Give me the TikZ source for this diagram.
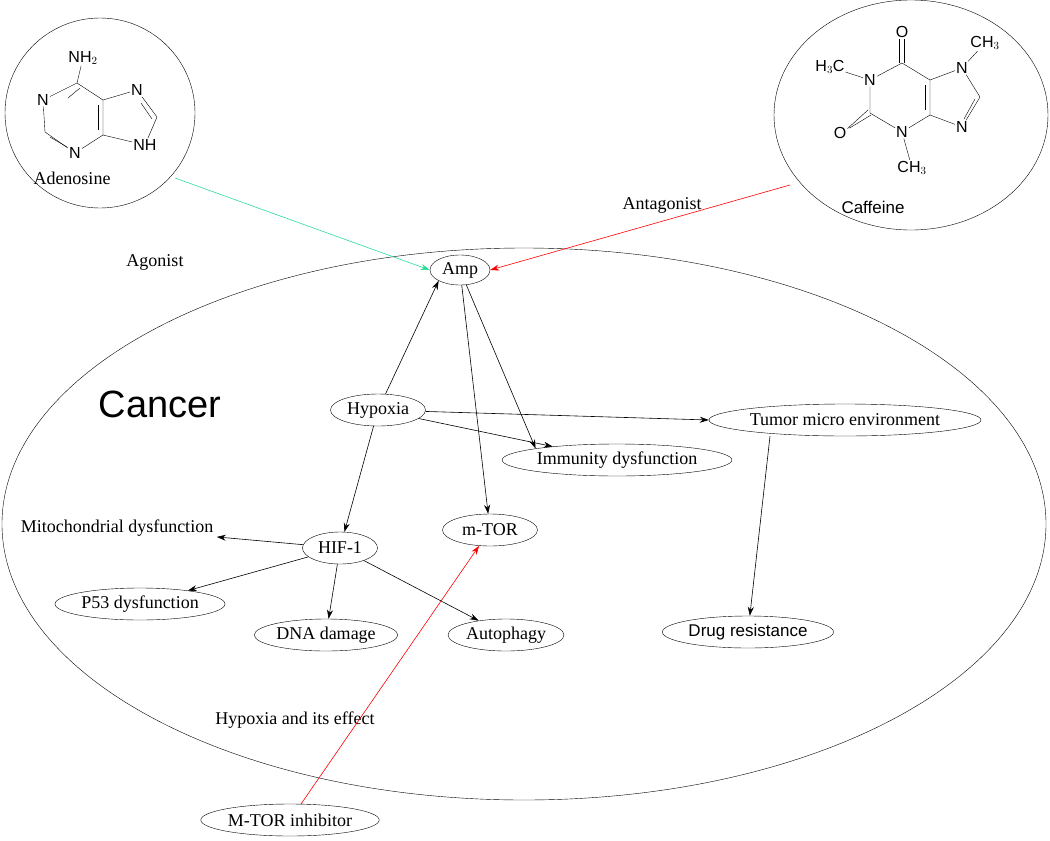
\documentclass[tikz,border=0pt]{standalone}
\usepackage{fontspec}
\setmainfont{Liberation Serif}
\newfontfamily\sansf{Liberation Sans}
\usetikzlibrary{shapes.geometric,arrows.meta}
\definecolor{agogreen}{RGB}{40,220,150}
\tikzset{
  box/.style={draw,ellipse,inner sep=1pt,font=\fontsize{18}{20}\selectfont},
  lbl/.style={font=\fontsize{18}{20}\selectfont},
  atom/.style={inner sep=1pt,font=\sansf\fontsize{16}{18}\selectfont},
  pt/.style={inner sep=0pt,minimum size=0pt},
  arr/.style={-{Stealth[length=9pt,width=6pt]},line width=.6pt},
}
\begin{document}
\begin{tikzpicture}[x=1pt,y=-1pt]
\useasboundingbox (0,0) rectangle (1050,841);
{
% circles
\draw (100,113) circle [radius=95];
\draw (911,115) ellipse [x radius=137,y radius=115];
\draw (524,524) ellipse [x radius=522,y radius=276];

% adenosine
\node[atom] (a1) at (83,58) {NH$_2$};
\node[pt] (c6) at (77,83) {};
\node[atom] (n1) at (43,100) {N};
\node[pt] (c2) at (45,132) {};
\node[atom] (n3) at (75,153) {N};
\node[pt] (c4) at (103,135) {};
\node[pt] (c5) at (103,100) {};
\node[atom] (n7) at (137,90) {N};
\node[pt] (c8) at (157,117) {};
\node[atom] (n9) at (145,145) {NH};
\draw (a1)--(c6) (c6)--(n1) (n1)--(c2) (c2)--(n3) (n3)--(c4) (c4)--(c5) (c5)--(c6)
      (c5)--(n7) (n7)--(c8) (c8)--(n9) (n9)--(c4);
\draw ([shift={(3,5)}]c6.center)--([shift={(-9,15)}]c6.center);
\draw ([shift={(5,5)}]c2.center)--([shift={(22,15)}]c2.center);
\draw ([shift={(-5,-5)}]c4.center)--([shift={(-5,-30)}]c4.center);
\draw ([shift={(-5,2)}]c8.center)--([shift={(-16,-14)}]c8.center);
\node[lbl] (ade) at (72,178) {Adenosine};

% caffeine
\node[atom] (o1) at (902,32) {O};
\node[pt] (k6) at (902,63) {};
\node[atom] (m1) at (870,80) {N};
\node[atom] (me1) at (830,67) {H$_3$C};
\node[pt] (k2) at (870,113) {};
\node[atom] (o2) at (840,133) {O};
\node[atom] (m3) at (902,132) {N};
\node[atom] (me3) at (912,168) {CH$_3$};
\node[pt] (k4) at (930,115) {};
\node[pt] (k5) at (930,80) {};
\node[atom] (m7) at (962,68) {N};
\node[atom] (me7) at (985,43) {CH$_3$};
\node[pt] (k8) at (980,97) {};
\node[atom] (m9) at (962,127) {N};
\draw (k6)--(m1) (m1)--(k2) (k2)--(m3) (m3)--(k4) (k4)--(k5) (k5)--(k6)
      (k5)--(m7) (m7)--(k8) (k8)--(m9) (m9)--(k4) (m1)--(me1) (m3)--(me3) (m7)--(me7);
\draw ([xshift=-2.5]o1.south)--([xshift=-2.5]k6.center) ([xshift=2.5]o1.south)--([xshift=2.5]k6.center);
\draw ([yshift=-2.5]o2.north east)--([shift={(-2,-3)}]k2.center) ([shift={(2,2)}]o2.north east)--([shift={(1,2)}]k2.center);
\draw ([shift={(-5,-5)}]k4.center)--([shift={(-5,-30)}]k4.center);
\draw ([shift={(-5,2)}]k8.center)--([shift={(-16,22)}]k8.center);
\node[font=\sansf\fontsize{17}{19}\selectfont] (caf) at (873,207) {Caffeine};

% labels
\node[lbl] at (155,262) {Agonist};
\node[lbl] at (662,205) {Antagonist};
\node[font=\sansf\fontsize{38}{40}\selectfont] at (160,404) {Cancer};
\node[lbl] at (295,720) {Hypoxia and its effect};

% nodes
\node[box,minimum width=60pt,minimum height=30pt] (amp) at (460,270) {Amp};
\node[box,minimum width=95pt,minimum height=32pt] (hyp) at (378,410) {Hypoxia};
\node[box,minimum width=255pt,minimum height=32pt] (tme) at (845,420) {Tumor micro environment};
\node[box,minimum width=210pt,minimum height=32pt] (imm) at (617,460) {Immunity dysfunction};
\node[box,minimum width=75pt,minimum height=32pt] (hif) at (340,548) {HIF-1};
\node[box,minimum width=95pt,minimum height=32pt] (mtor) at (490,530) {m-TOR};
\node[lbl] (mito) at (117,528) {Mitochondrial dysfunction};
\node[box,minimum width=170pt,minimum height=32pt] (p53) at (140,604) {P53 dysfunction};
\node[box,minimum width=125pt,minimum height=32pt] (dna) at (326,635) {DNA damage};
\node[box,minimum width=105pt,minimum height=32pt] (aut) at (506,635) {Autophagy};
\node[box,minimum width=165pt,minimum height=32pt,font=\sansf\fontsize{17}{19}\selectfont] (drug) at (748,632) {Drug resistance};
\node[box,minimum width=140pt,minimum height=32pt] (inh) at (290,820) {M-TOR inhibitor};

\coordinate (adeout) at (175,178);
\coordinate (cafout) at (790,185);

% connectors
\draw[arr,agogreen] (adeout) -- (amp.west);
\draw[arr,red] (cafout) -- (amp.east);
\draw[arr] (hyp) -- (amp.south west);
\draw[arr] (amp) -- (imm.north west);
\draw[arr] (hyp) -- (imm);
\draw[arr] (amp) -- (mtor);
\draw[arr] (hyp) -- (tme.west);
\draw[arr] (hyp) -- (hif);
\draw[arr] (hif) -- (mito);
\draw[arr] (hif) -- (p53);
\draw[arr] (hif) -- (dna);
\draw[arr] (hif) -- (aut);
\draw[arr] ([xshift=-75]tme.south) -- (drug);
\draw[arr,red] (inh) -- (mtor);
}
\end{tikzpicture}
\end{document}
